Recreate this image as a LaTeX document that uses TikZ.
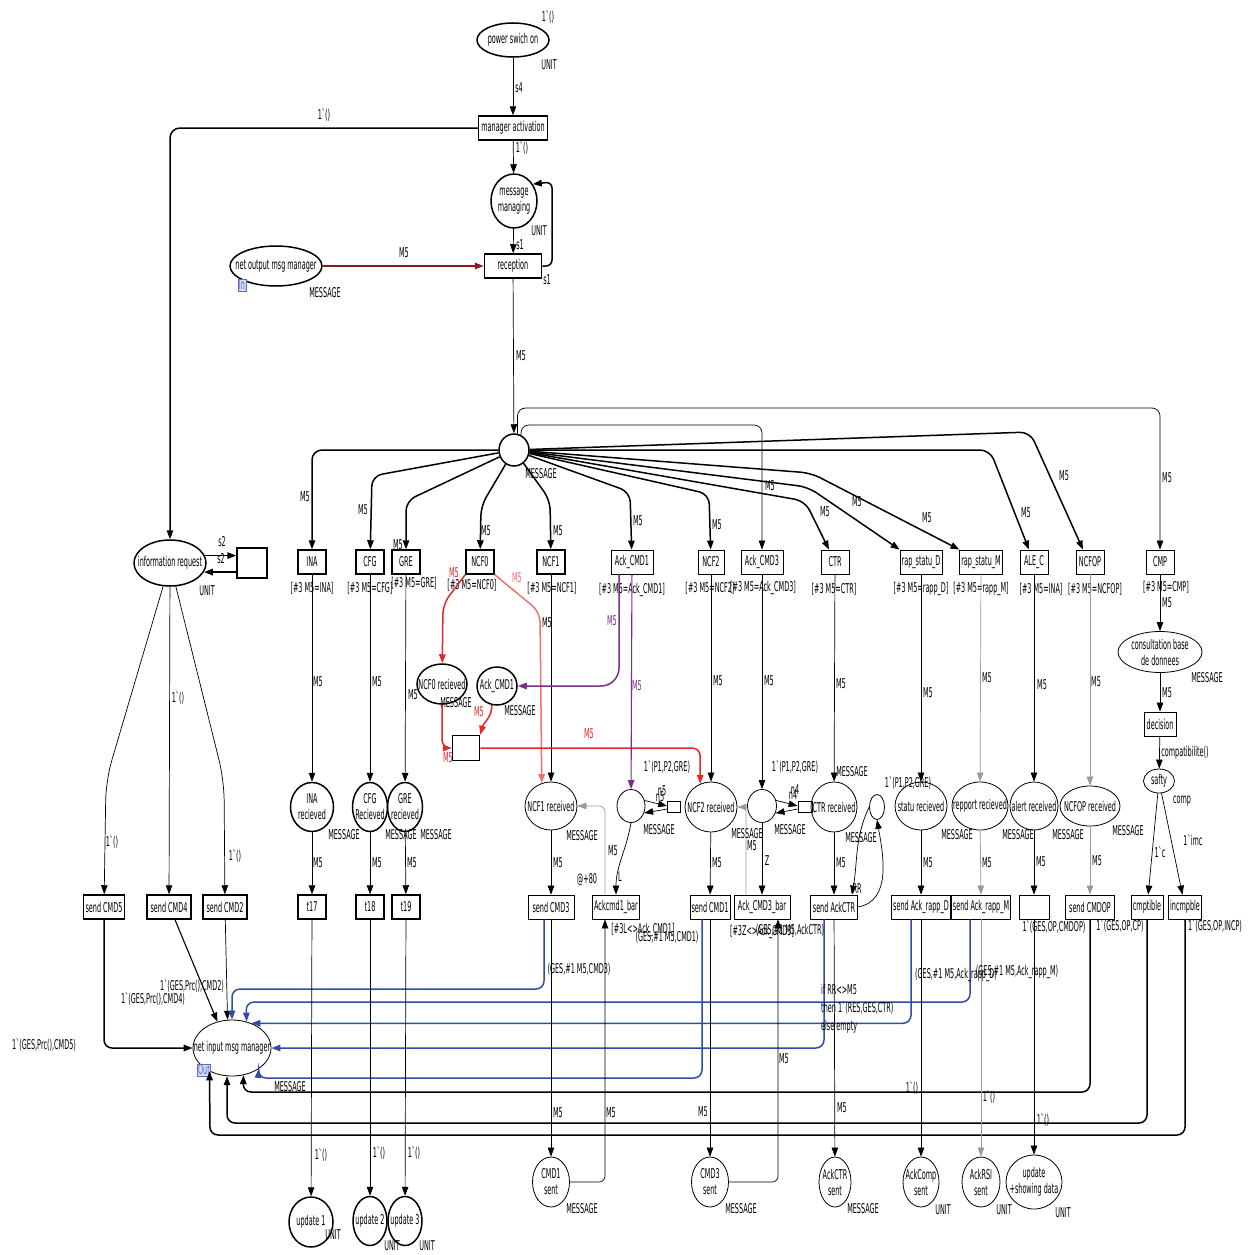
\documentclass[tikz,border=0pt]{standalone}
\usepackage{fontspec}
\setmainfont{DejaVu Sans}[FakeStretch=0.48]
\usetikzlibrary{arrows.meta,shapes.geometric}
\definecolor{netred}{HTML}{E8262A}
\definecolor{netpink}{HTML}{F07070}
\definecolor{netdark}{HTML}{8C1C1C}
\definecolor{netplum}{HTML}{7A2E86}
\definecolor{netblue}{HTML}{2D4EA3}
\definecolor{netgrey}{HTML}{9A9A9A}
\definecolor{tagfill}{HTML}{D5DCF4}
\definecolor{tagline}{HTML}{5A6CC8}
\tikzset{place/.style={draw,ellipse,line width=1.5pt,inner sep=0pt},thinplace/.style={place,line width=0.8pt},trans/.style={draw,line width=1.5pt,minimum height=24pt,inner sep=1.5pt},thintrans/.style={trans,line width=0.8pt},arc/.style={-{Triangle[length=9pt,width=6.5pt]},line width=0.7pt},boldarc/.style={arc,line width=1.5pt},lbl/.style={inner sep=0pt},tag/.style={draw=tagline,fill=tagfill,text=tagline,inner sep=0.8pt}}
\begin{document}
\begin{tikzpicture}[x=1pt,y=-1pt,font=\fontsize{13.5}{16}\selectfont]
\fill[white] (0,0) rectangle (1249,1255);
\useasboundingbox (0,0) rectangle (1249,1255);
% manager part
\node[place,minimum width=72,minimum height=34,label=center:power swich on] (power) at (513,40) {};
\node[trans,minimum width=69] (mact) at (513,128) {manager activation};
\node[place,minimum width=46,minimum height=54,label={[align=center]center:message\\managing}] (mm) at (514,201) {};
\node[trans,minimum width=57] (recep) at (513,266) {reception};
\node[place,minimum width=92,minimum height=40,label=center:net output msg manager] (netout) at (276,266) {};
\node[tag] (intag) at (242,285) {In};
\node[place,minimum width=30,minimum height=32] (hub) at (514,450) {};
\node[place,minimum width=72,minimum height=46,label=center:information request] (info) at (170,563) {};
\node[trans,minimum width=30,minimum height=30] (tIR) at (252,563) {};
% first row of transitions
\node[trans,minimum width=28] (INA) at (312,562) {INA};
\node[trans,minimum width=28] (CFG) at (370,562) {CFG};
\node[trans,minimum width=28] (GRE) at (406,562) {GRE};
\node[trans,minimum width=28] (NCF0) at (480,562) {NCF0};
\node[trans,minimum width=28] (NCF1) at (551,562) {NCF1};
\node[thintrans,minimum width=42] (AckT) at (632,562) {Ack\_CMD1};
\node[thintrans,minimum width=26] (NCF2) at (711,562) {NCF2};
\node[thintrans,minimum width=42] (AckC3) at (762,562) {Ack\_CMD3};
\node[thintrans,minimum width=28] (CTR) at (835,562) {CTR};
\node[thintrans,minimum width=42] (rapD) at (921,562) {rap\_statu\_D};
\node[thintrans,minimum width=42] (rapM) at (981,562) {rap\_statu\_M};
\node[thintrans,minimum width=28] (ALE) at (1034,562) {ALE\_C};
\node[thintrans,minimum width=28] (NCFOP) at (1090,562) {NCFOP};
\node[thintrans,minimum width=28] (CMP) at (1160,562) {CMP};
\node[lbl] (gINA) at (312,588) {[\#3 M5=INA]};
\node[lbl] (gCFG) at (370,588) {[\#3 M5=CFG]};
\node[lbl] (gGRE) at (414,583) {[\#3 M5=GRE]};
\node[lbl] (gNCF0) at (472,585) {[\#3 M5=NCF0]};
\node[lbl] (gNCF1) at (552,588) {[\#3 M5=NCF1]};
\node[lbl] (gAckT) at (632,590) {[\#3 M5=Ack\_CMD1]};
\node[lbl] (gNCF2) at (710,588) {[\#3 M5=NCF2]};
\node[lbl] (gAckC3) at (763,588) {[\#3 M5=Ack\_CMD3]};
\node[lbl] (gCTR) at (834,589) {[\#3 M5=CTR]};
\node[lbl] (grapD) at (921,589) {[\#3 M5=rapp\_D]};
\node[lbl] (grapM) at (981,589) {[\#3 M5=rapp\_M]};
\node[lbl] (gALE) at (1041,589) {[\#3 M5=INA]};
\node[lbl] (gNCFOP) at (1095,589) {[\#3 M5=NCFOP]};
\node[lbl] (gCMP) at (1166,587) {[\#3 M5=CMP]};
% red and purple part
\node[place,minimum width=50,minimum height=40,label=center:NCF0 recieved] (NCF0r) at (442,684) {};
\node[place,minimum width=40,minimum height=38,label=center:Ack\_CMD1] (AckP) at (497,686) {};
\node[trans,minimum width=27,minimum height=25] (tr1) at (466,748) {};
% right column
\node[thinplace,minimum width=84,minimum height=41,label={[align=center]center:consultation base\\de donnees}] (cons) at (1160,652) {};
\node[thintrans,minimum width=32] (dec) at (1160,724) {decision};
\node[thinplace,minimum width=31,minimum height=24,label=center:safty] (safty) at (1159,781) {};
% received places
\node[place,minimum width=43,minimum height=49,label={[align=center]center:INA\\recieved}] (INAr) at (312,807) {};
\node[place,minimum width=35,minimum height=49,label={[align=center]center:CFG\\Recieved}] (CFGr) at (370,807) {};
\node[place,minimum width=35,minimum height=49,label={[align=center]center:GRE\\recieved}] (GREr) at (405,807) {};
\node[thinplace,minimum width=52,minimum height=48,label=center:NCF1 received] (NCF1r) at (551,806) {};
\node[thinplace,minimum width=28,minimum height=33] (cA) at (631,806) {};
\node[thintrans,minimum width=13,minimum height=11,inner sep=0pt] (sA) at (674,807) {};
\node[thinplace,minimum width=52,minimum height=50,label=center:NCF2 received] (NCF2r) at (711,807) {};
\node[thinplace,minimum width=29,minimum height=33] (cB) at (762,806) {};
\node[thintrans,minimum width=14,minimum height=11,inner sep=0pt] (sB) at (805,807) {};
\node[thinplace,minimum width=46,minimum height=50,label=center:CTR received] (CTRr) at (834,807) {};
\node[thinplace,minimum width=15,minimum height=25] (cC) at (877,807) {};
\node[thinplace,minimum width=52,minimum height=48,label=center:statu recieved] (statu) at (921,806) {};
\node[thinplace,minimum width=56,minimum height=48,label=center:repport recieved] (repport) at (980,806) {};
\node[thinplace,minimum width=48,minimum height=48,label=center:alert received] (alert) at (1034,806) {};
\node[thinplace,minimum width=60,minimum height=40,label=center:NCFOP received] (NCFOPr) at (1090,806) {};
% second row of transitions
\node[trans,minimum width=41] (sCMD5) at (104,907) {send CMD5};
\node[trans,minimum width=44] (sCMD4) at (169,907) {send CMD4};
\node[trans,minimum width=44] (sCMD2) at (225,907) {send CMD2};
\node[trans,minimum width=28] (t17) at (312,907) {t17};
\node[trans,minimum width=28] (t18) at (370,907) {t18};
\node[trans,minimum width=28] (t19) at (406,907) {t19};
\node[thintrans,minimum width=46] (sCMD3) at (551,907) {send CMD3};
\node[thintrans,minimum width=46] (ackbar) at (616,907) {Ackcmd1\_bar};
\node[thintrans,minimum width=40] (sCMD1) at (710,907) {send CMD1};
\node[thintrans,minimum width=56] (ack3bar) at (762,907) {Ack\_CMD3\_bar};
\node[thintrans,minimum width=47] (sAck) at (834,907) {send AckCTR};
\node[thintrans,minimum width=59] (sRappD) at (921,907) {send Ack\_rapp\_D};
\node[thintrans,minimum width=58] (sRappM) at (981,907) {send Ack\_rapp\_M};
\node[thintrans,minimum width=30] (ale2) at (1034,907) {};
\node[thintrans,minimum width=49] (sCMDOP) at (1090,907) {send CMDOP};
\node[thintrans,minimum width=32] (cmpt) at (1147,907) {cmptible};
\node[thintrans,minimum width=32] (incmp) at (1185,907) {incmpble};
% bottom places
\node[thinplace,minimum width=78,minimum height=56,label=center:net input msg manager] (netin) at (232,1048) {};
\node[tag] (outtag) at (204,1070) {Out};
\node[place,minimum width=44,minimum height=50,label=center:update 1] (upd1) at (311,1222) {};
\node[place,minimum width=34,minimum height=49,label=center:update 2] (upd2) at (370,1221) {};
\node[place,minimum width=34,minimum height=49,label=center:update 3] (upd3) at (405,1221) {};
\node[thinplace,minimum width=37,minimum height=50,label={[align=center]center:CMD1\\sent}] (CMD1s) at (551,1182) {};
\node[thinplace,minimum width=37,minimum height=50,label={[align=center]center:CMD3\\sent}] (CMD3s) at (710,1182) {};
\node[thinplace,minimum width=32,minimum height=50,label={[align=center]center:AckCTR\\sent}] (AckCTRs) at (835,1182) {};
\node[thinplace,minimum width=36,minimum height=50,label={[align=center]center:AckComp\\sent}] (AckComp) at (921,1182) {};
\node[thinplace,minimum width=38,minimum height=50,label={[align=center]center:AckRSI\\sent}] (AckRSI) at (981,1182) {};
\node[thinplace,minimum width=56,minimum height=54,label={[align=center]center:update\\+showing data}] (updData) at (1034,1182) {};
% arcs of the manager
\draw[arc] (power) -- (mact);
\draw[arc] (mact) -- (mm);
\draw[arc] (mm) -- (recep);
\draw[boldarc,rounded corners=6] (recep.east) -| (552,182) -- (mm.42);
\draw[boldarc,netdark] (netout) -- (recep);
\draw[arc] (recep) -- (hub);
\draw[boldarc,rounded corners=10] (mact.west) -| (info);
\draw[boldarc] (info.12) -- (info.12 -| tIR.west);
\draw[boldarc] (info.-15 -| tIR.west) -- (info.-15);
% hub to the transitions
\draw[boldarc,rounded corners=10] (hub) -| (INA);
\draw[boldarc,rounded corners=10] (hub) -- (372,476) -- (CFG);
\draw[boldarc,rounded corners=10] (hub) -- (406,501) -- (GRE);
\draw[boldarc,rounded corners=10] (hub) -- (481,506) -- (NCF0);
\draw[boldarc,rounded corners=10] (hub) -- (550,500) -- (NCF1);
\draw[boldarc,rounded corners=10] (hub) -- (630,492) -- (AckT);
\draw[boldarc,rounded corners=10] (hub) -- (709,494) -- (NCF2);
\draw[arc,rounded corners=8] (hub.65) |- (762,425) -- (AckC3);
\draw[arc,rounded corners=8] (hub.78) |- (1160,408) -- (CMP);
\draw[boldarc,rounded corners=10] (hub) -- (805,501) -- ([xshift=-6pt]CTR.north);
\draw[boldarc,rounded corners=10] (hub) -- (808,487) -- (rapD.north west);
\draw[boldarc,rounded corners=10] (hub) -- (811,473) -- (rapM.north west);
\draw[boldarc,rounded corners=10] (hub) -- (990,450) -- ([xshift=-5pt]ALE.north);
\draw[boldarc,rounded corners=10] (hub) -- (1030,432) -- ([xshift=-7pt]NCFOP.north);
% transitions to the received places
\draw[arc] (INA) -- (INAr);
\draw[arc] (CFG) -- (CFGr);
\draw[arc] (GRE) -- (GREr);
\draw[arc] (NCF1) -- (NCF1r);
\draw[arc] (NCF2) -- (NCF2r);
\draw[arc] (AckC3) -- (cB);
\draw[arc] (CTR) -- (CTRr);
\draw[arc] (rapD) -- (statu);
\draw[arc,netgrey] (rapM) -- (repport);
\draw[arc] (ALE) -- (alert);
\draw[arc,netgrey] (NCFOP) -- (NCFOPr);
\draw[arc] (CMP) -- (cons);
\draw[arc] (cons) -- (dec);
\draw[arc] (dec) -- (safty);
\draw[arc] (safty) -- (cmpt);
\draw[arc] (safty) -- (incmp);
% red and purple arcs
\draw[boldarc,netred,rounded corners=10] (NCF0.south west) -- (443,604) -- (NCF0r);
\draw[boldarc,netpink,rounded corners=10] (NCF0.south east) -- (540,612) -- (NCF1r.112);
\draw[boldarc,netred,rounded corners=8] (NCF0r.south) |- (tr1.west);
\draw[boldarc,netred] (AckP.255) to[out=-90,in=75] (tr1.north east);
\draw[boldarc,netred,rounded corners=8] (tr1.east) -| (NCF2r.115);
\draw[boldarc,netplum,rounded corners=18] ([xshift=-13pt]AckT.south) |- (AckP.east);
\draw[arc,netplum,line width=1.1pt] (AckT) -- (cA);
% small loops
\draw[arc] (cA.22) -- ([yshift=1pt]sA.west);
\draw[arc] ([yshift=-2pt]sA.west) -- (cA.-28);
\draw[arc] (cB.22) -- ([yshift=1pt]sB.west);
\draw[arc] ([yshift=-2pt]sB.west) -- (cB.-28);
\draw[arc] (cC.west) to[out=-115,in=80] ([xshift=-6pt]sAck.north east);
\draw[arc] (sAck.east) to[out=10,in=-80] (cC.south);
% received places to the second row
\draw[arc] (INAr) -- (t17);
\draw[arc] (CFGr) -- (t18);
\draw[arc] (GREr) -- (t19);
\draw[arc] (NCF1r) -- (sCMD3);
\draw[arc] (cA.south) to[out=-100,in=90] (ackbar.north);
\draw[arc,netgrey,rounded corners=6] ([xshift=-11pt]ackbar.north) |- (NCF1r.east);
\draw[arc] (NCF2r) -- (sCMD1);
\draw[arc] (cB) -- (ack3bar);
\draw[arc,netgrey,rounded corners=4] ([xshift=-16pt]ack3bar.north) |- (NCF2r.east);
\draw[arc] (CTRr) -- (sAck);
\draw[arc] (statu) -- (sRappD);
\draw[arc,netgrey] (repport) -- (sRappM);
\draw[arc] (alert) -- (ale2);
\draw[arc,netgrey] (NCFOPr) -- (sCMDOP);
% information request
\draw[arc,rounded corners=20] (info) -- (106,780) -- (sCMD5);
\draw[arc] (info) -- (sCMD4);
\draw[arc,rounded corners=20] (info) -- (224,780) -- (sCMD2);
\draw[boldarc,rounded corners=8] (sCMD5) |- (netin.west);
\draw[arc,line width=1.1pt] ([xshift=6pt]sCMD4.south) -- (netin.119);
\draw[arc] (sCMD2) -- (netin.99);
% back to the net input
\draw[boldarc,netblue,rounded corners=8] ([xshift=-7pt]sCMD3.south) |- (232,989) -- (netin.north);
\draw[boldarc,netblue,rounded corners=8] ([xshift=-11pt]sRappM.south) |- (246,1002) -- (netin.61);
\draw[boldarc,netblue,rounded corners=8] ([xshift=-10pt]sRappD.south) |- (netin.52);
\draw[boldarc,netblue,rounded corners=8] ([xshift=-10pt]sAck.south) |- (netin.east);
\draw[boldarc,netblue,rounded corners=8] ([xshift=-8pt]sCMD1.south) |- (258,1078) -- (netin.-38);
\draw[boldarc,rounded corners=8] (sCMDOP) |- (243,1092) -- (netin.-67);
\draw[boldarc,rounded corners=8] (cmpt) |- (227,1123) -- (netin.-100);
\draw[boldarc,rounded corners=8] (incmp) |- (210,1135) -- (netin.-134);
% second row to the bottom places
\draw[arc] (t17) -- (upd1);
\draw[arc] (t18) -- (upd2);
\draw[arc] (t19) -- (upd3);
\draw[arc] (sCMD3) -- (CMD1s);
\draw[arc] (sCMD1) -- (CMD3s);
\draw[arc] (sAck) -- (AckCTRs);
\draw[arc] (sRappD) -- (AckComp);
\draw[arc,netgrey] (sRappM) -- (AckRSI);
\draw[arc] (ale2) -- (updData);
\draw[arc,rounded corners=6] (CMD1s.east) -| ([xshift=-11pt]ackbar.south);
\draw[arc,rounded corners=6] (CMD3s.east) -| ([xshift=16pt]ack3bar.south);
% colour sets and markings
\node[lbl] (tPow) at (549,65) {UNIT};
\node[lbl] (tMm) at (539,231) {UNIT};
\node[lbl] (tOut) at (325,293) {MESSAGE};
\node[lbl] (tHub) at (541,474) {MESSAGE};
\node[lbl] (tInfo) at (207,591) {UNIT};
\node[lbl] (tNCF0r) at (456,703) {MESSAGE};
\node[lbl] (tAckP) at (520,711) {MESSAGE};
\node[lbl] (tINAr) at (344,835) {MESSAGE};
\node[lbl] (tCFGr) at (401,835) {MESSAGE};
\node[lbl] (tGREr) at (436,835) {MESSAGE};
\node[lbl] (tNCF1r) at (582,836) {MESSAGE};
\node[lbl] (tcA) at (659,830) {MESSAGE};
\node[lbl] (tNCF2r) at (747,834) {MESSAGE};
\node[lbl] (tcB) at (790,830) {MESSAGE};
\node[lbl] (tCTRr) at (852,772) {MESSAGE};
\node[lbl] (tcC) at (861,838) {MESSAGE};
\node[lbl] (tStatu) at (957,835) {MESSAGE};
\node[lbl] (tRep) at (1018,835) {MESSAGE};
\node[lbl] (tAlert) at (1068,835) {MESSAGE};
\node[lbl] (tNCFOPr) at (1128,831) {MESSAGE};
\node[lbl] (tCons) at (1207,678) {MESSAGE};
\node[lbl] (tSafty) at (1182,801) {comp};
\node[lbl] (tNetin) at (290,1087) {MESSAGE};
\node[lbl] (tU1) at (333,1235) {UNIT};
\node[lbl] (tU2) at (392,1246) {UNIT};
\node[lbl] (tU3) at (427,1246) {UNIT};
\node[lbl] (tCMD1s) at (582,1209) {MESSAGE};
\node[lbl] (tCMD3s) at (741,1209) {MESSAGE};
\node[lbl] (tAckCTRs) at (863,1209) {MESSAGE};
\node[lbl] (tAckComp) at (943,1210) {UNIT};
\node[lbl] (tAckRSI) at (1004,1210) {UNIT};
\node[lbl] (tUpd) at (1063,1213) {UNIT};
\node[lbl] (mPow) at (548,17) {1ˋ()};
\node[lbl] (mcA) at (667,767) {1ˋ(P1,P2,GRE)};
\node[lbl] (mcB) at (795,767) {1ˋ(P1,P2,GRE)};
\node[lbl] (mcC) at (908,783) {1ˋ(P1,P2,GRE)};
% arc inscriptions
\node[lbl] (a1) at (519,88) {s4};
\node[lbl] (a2) at (324,115) {1ˋ()};
\node[lbl] (a3) at (522,148) {1ˋ()};
\node[lbl] (a4) at (520,245) {s1};
\node[lbl] (a5) at (547,280) {s1};
\node[lbl] (a6) at (404,253) {M5};
\node[lbl] (a7) at (521,356) {M5};
\node[lbl] (a8) at (222,542) {s2};
\node[lbl] (a9) at (221,559) {s2};
\node[lbl] (a10) at (305,497) {M5};
\node[lbl] (a11) at (363,510) {M5};
\node[lbl] (a12) at (398,545) {M5};
\node[lbl] (a13) at (486,531) {M5};
\node[lbl] (a14) at (558,531) {M5};
\node[lbl] (a15) at (638,521) {M5};
\node[lbl] (a16) at (717,525) {M5};
\node[lbl] (a17) at (770,486) {M5};
\node[lbl] (a18) at (825,512) {M5};
\node[lbl] (a19) at (857,502) {M5};
\node[lbl] (a20) at (927,518) {M5};
\node[lbl] (a21) at (1026,513) {M5};
\node[lbl] (a22) at (1064,476) {M5};
\node[lbl] (a23) at (1167,478) {M5};
\node[lbl] (a24) at (318,682) {M5};
\node[lbl] (a25) at (377,682) {M5};
\node[lbl] (a26) at (413,695) {M5};
\node[lbl] (a27) at (547,623) {M5};
\node[lbl] (a28) at (718,681) {M5};
\node[lbl] (a29) at (769,681) {M5};
\node[lbl] (a30) at (841,684) {M5};
\node[lbl] (a31) at (928,693) {M5};
\node[lbl] (a32) at (987,678) {M5};
\node[lbl] (a33) at (1042,685) {M5};
\node[lbl] (a34) at (1096,682) {M5};
\node[lbl] (a35) at (1167,603) {M5};
\node[lbl] (a36) at (1167,693) {M5};
\node[lbl] (a37) at (1185,753) {compatibilite()};
\node[lbl] (a38) at (1160,852) {1ˋc};
\node[lbl] (a39) at (1193,840) {1ˋimc};
\node[lbl,text=netred] (a40) at (454,573) {M5};
\node[lbl,text=netpink] (a41) at (517,578) {M5};
\node[lbl,text=netred] (a42) at (479,712) {M5};
\node[lbl,text=netred] (a43) at (448,758) {M5};
\node[lbl,text=netred] (a44) at (589,734) {M5};
\node[lbl,text=netplum] (a45) at (612,621) {M5};
\node[lbl,text=netplum] (a46) at (637,686) {M5};
\node[lbl] (a47) at (662,791) {n5};
\node[lbl] (a48) at (660,797) {n5};
\node[lbl] (a49) at (795,790) {n4};
\node[lbl] (a50) at (793,795) {n4};
\node[lbl] (a51) at (857,889) {RR};
\node[lbl] (a52) at (318,863) {M5};
\node[lbl] (a53) at (377,863) {M5};
\node[lbl] (a54) at (412,863) {M5};
\node[lbl] (a55) at (558,863) {M5};
\node[lbl] (a56) at (613,851) {M5};
\node[lbl] (a57) at (620,877) {L};
\node[lbl] (a58) at (587,880) {@+80};
\node[lbl] (a59) at (717,863) {M5};
\node[lbl] (a60) at (752,846) {M5};
\node[lbl] (a61) at (767,861) {Z};
\node[lbl] (a62) at (841,863) {M5};
\node[lbl] (a63) at (928,863) {M5};
\node[lbl] (a64) at (987,863) {M5};
\node[lbl] (a65) at (1041,862) {M5};
\node[lbl] (a66) at (1097,861) {M5};
\node[lbl] (a67) at (112,842) {1ˋ()};
\node[lbl] (a68) at (178,698) {1ˋ()};
\node[lbl] (a69) at (235,856) {1ˋ()};
\node[lbl] (a70) at (643,930) {[\#3L<>Ack\_CMD1]};
\node[lbl] (a71) at (667,937) {(GES,\#1 M5,CMD1)};
\node[lbl] (a72) at (762,932) {[\#3Z<>Ack\_CMD3]};
\node[lbl] (a73) at (790,930) {(GES,\#1 M5,AckCTR)};
\node[lbl] (a74) at (1054,927) {1ˋ(GES,OP,CMDOP)};
\node[lbl] (a75) at (1120,926) {1ˋ(GES,OP,CP)};
\node[lbl] (a76) at (1215,926) {1ˋ(GES,OP,INCP)};
\node[lbl] (a77) at (579,969) {(GES,\#1 M5,CMD3)};
\node[lbl] (a78) at (956,975) {(GES,\#1 M5,Ack\_rapp\_D)};
\node[lbl] (a79) at (1017,972) {(GES,\#1 M5,Ack\_rapp\_M)};
\node[lbl,align=left,anchor=north west,font=\fontsize{13.5}{18}\selectfont] (a80) at (821,984) {if RR<>M5\\then 1ˋ(RES,GES,CTR)\\else empty};
\node[lbl] (a81) at (192,986) {1ˋ(GES,Prc(),CMD2)};
\node[lbl] (a82) at (153,999) {1ˋ(GES,Prc(),CMD4)};
\node[lbl] (a83) at (44,1045) {1ˋ(GES,Prc(),CMD5)};
\node[lbl] (a84) at (912,1088) {1ˋ()};
\node[lbl] (a85) at (989,1097) {1ˋ()};
\node[lbl] (a86) at (1043,1120) {1ˋ()};
\node[lbl] (a87) at (784,1059) {M5};
\node[lbl] (a88) at (558,1113) {M5};
\node[lbl] (a89) at (611,1113) {M5};
\node[lbl] (a90) at (703,1112) {M5};
\node[lbl] (a91) at (842,1108) {M5};
\node[lbl] (a92) at (321,1155) {1ˋ()};
\node[lbl] (a93) at (379,1153) {1ˋ()};
\node[lbl] (a94) at (414,1153) {1ˋ()};
\end{tikzpicture}
\end{document}
